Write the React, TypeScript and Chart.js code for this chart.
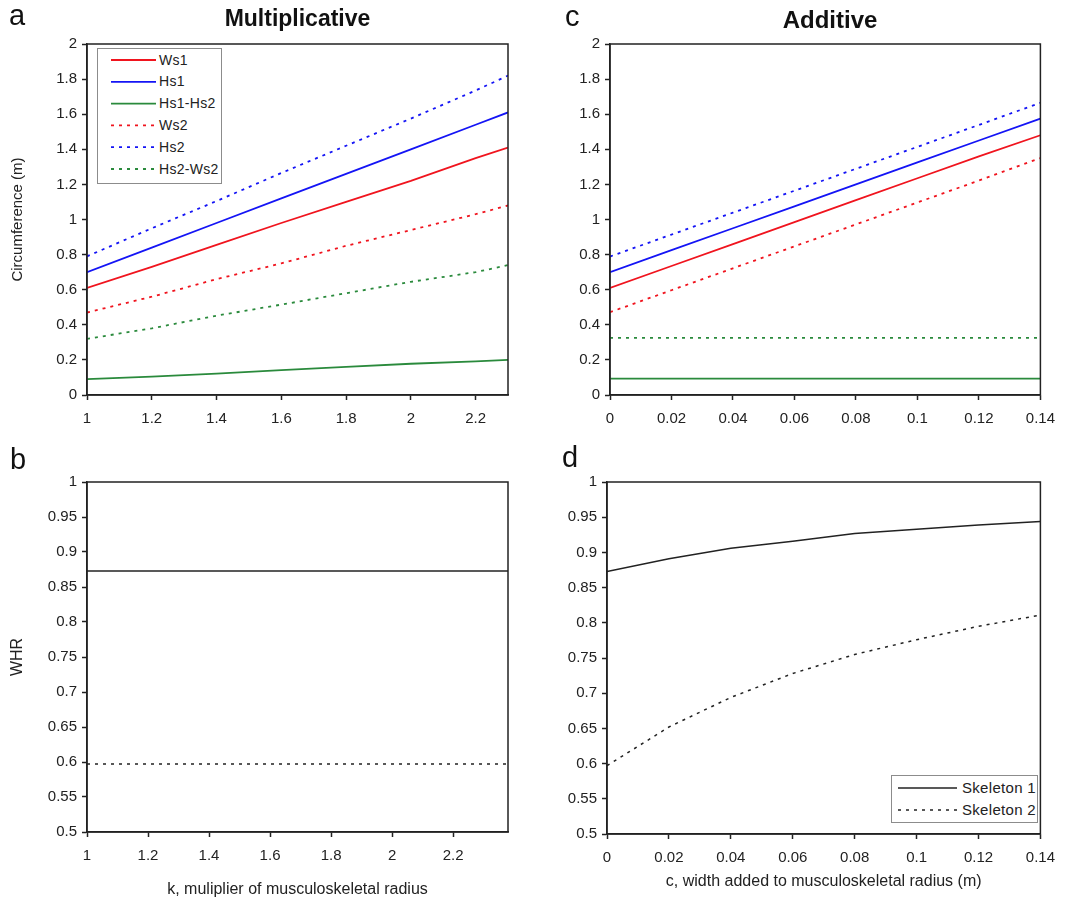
import React, { useEffect, useRef } from "react";
import { Chart, registerables } from "chart.js";

Chart.register(...registerables);

const FONT = '"Liberation Sans", Arial, Helvetica, sans-serif';
const INK = "#222";
const RED = "#f0141e";
const BLUE = "#1414f5";
const GREEN = "#2a8a3c";

// ---- Panel a: Multiplicative circumference ----
const kValues = [1, 1.2, 1.4, 1.6, 1.8, 2, 2.2, 2.3];
const multWs1 = [0.61, 0.73, 0.855, 0.98, 1.1, 1.22, 1.35, 1.41];
const multHs1 = [0.7, 0.84, 0.98, 1.12, 1.26, 1.4, 1.54, 1.61];
const multHs1Hs2 = [0.09, 0.105, 0.122, 0.142, 0.16, 0.178, 0.192, 0.2];
const multWs2 = [0.47, 0.56, 0.66, 0.75, 0.85, 0.94, 1.03, 1.08];
const multHs2 = [0.79, 0.95, 1.105, 1.265, 1.42, 1.575, 1.735, 1.82];
const multHs2Ws2 = [0.32, 0.38, 0.452, 0.515, 0.58, 0.645, 0.7, 0.74];

// ---- Panel c: Additive circumference ----
const cValues = [0, 0.02, 0.04, 0.06, 0.08, 0.1, 0.12, 0.14];
const addWs1 = [0.61, 0.735, 0.86, 0.985, 1.11, 1.235, 1.36, 1.48];
const addHs1 = [0.7, 0.825, 0.95, 1.075, 1.2, 1.325, 1.45, 1.575];
const addHs1Hs2 = [0.093, 0.093, 0.093, 0.093, 0.093, 0.093, 0.093, 0.093];
const addWs2 = [0.472, 0.597, 0.722, 0.847, 0.972, 1.097, 1.222, 1.35];
const addHs2 = [0.789, 0.914, 1.039, 1.164, 1.289, 1.414, 1.539, 1.665];
const addHs2Ws2 = [0.325, 0.325, 0.325, 0.325, 0.325, 0.325, 0.325, 0.325];

// ---- Panel b: Multiplicative WHR ----
const kValuesB = [1, 1.2, 1.4, 1.6, 1.8, 2, 2.2, 2.38];
const whrMultSk1 = [0.873, 0.873, 0.873, 0.873, 0.873, 0.873, 0.873, 0.873];
const whrMultSk2 = [0.597, 0.597, 0.597, 0.597, 0.597, 0.597, 0.597, 0.597];

// ---- Panel d: Additive WHR ----
const whrAddSk1 = [0.873, 0.891, 0.906, 0.916, 0.927, 0.933, 0.939, 0.944];
const whrAddSk2 = [0.597, 0.652, 0.694, 0.728, 0.755, 0.776, 0.795, 0.811];

const circLegend = ["Ws1", "Hs1", "Hs1-Hs2", "Ws2", "Hs2", "Hs2-Ws2"];
const whrLegend = ["Skeleton 1", "Skeleton 2"];

type Series = { label: string; xs: number[]; ys: number[]; color: string; dashed: boolean; width: number };

type PanelProps = {
  left: number;
  top: number;
  width: number;
  height: number;
  padTop: number;
  padRight: number;
  yAxisWidth: number;
  xAxisHeight: number;
  xMin: number;
  xMax: number;
  xStep: number;
  yMin: number;
  yMax: number;
  yStep: number;
  yTitle?: string;
  yTitleSize?: number;
  yTitlePad?: number;
  xTitle?: string;
  xTitleSize?: number;
  xTitlePad?: number;
  series: Series[];
};

const framePlugin = {
  id: "frame",
  afterDraw(chart: any) {
    const { ctx, chartArea } = chart;
    ctx.save();
    ctx.strokeStyle = INK;
    ctx.lineWidth = 1.5;
    ctx.strokeRect(chartArea.left, chartArea.top, chartArea.right - chartArea.left, chartArea.bottom - chartArea.top);
    ctx.restore();
  },
};

const fmt = (v: any) => String(parseFloat(Number(v).toFixed(6)));

function Panel(p: PanelProps) {
  const ref = useRef<HTMLCanvasElement | null>(null);
  useEffect(() => {
    if (!ref.current) return;
    const tickFont = { family: FONT, size: 15 };
    const chart = new Chart(ref.current, {
      type: "line",
      data: {
        datasets: p.series.map((s) => ({
          label: s.label,
          data: s.xs.map((x, i) => ({ x, y: s.ys[i] })),
          borderColor: s.color,
          backgroundColor: s.color,
          borderWidth: s.width,
          borderDash: s.dashed ? [3, 5] : [],
          pointRadius: 0,
          fill: false,
          tension: 0,
        })),
      },
      options: {
        animation: false,
        responsive: false,
        maintainAspectRatio: false,
        layout: { padding: { top: p.padTop, right: p.padRight, left: 0, bottom: 0 } },
        plugins: {
          legend: { display: false },
          tooltip: { enabled: false },
          title: { display: false },
        },
        scales: {
          x: {
            type: "linear",
            min: p.xMin,
            max: p.xMax,
            afterFit: (s: any) => {
              s.height = p.xAxisHeight;
            },
            ticks: {
              stepSize: p.xStep,
              includeBounds: false,
              autoSkip: false,
              maxRotation: 0,
              font: tickFont,
              color: INK,
              padding: 10,
              callback: fmt,
            },
            grid: { drawOnChartArea: false, drawTicks: true, tickLength: 5, color: INK, tickWidth: 1.5 },
            border: { display: true, color: INK, width: 1.5 },
            title: p.xTitle
              ? {
                  display: true,
                  text: p.xTitle,
                  color: INK,
                  font: { family: FONT, size: p.xTitleSize || 16 },
                  padding: { top: 0, bottom: p.xTitlePad || 0 },
                }
              : { display: false },
          },
          y: {
            type: "linear",
            min: p.yMin,
            max: p.yMax,
            afterFit: (s: any) => {
              s.width = p.yAxisWidth;
            },
            ticks: {
              stepSize: p.yStep,
              autoSkip: false,
              font: tickFont,
              color: INK,
              padding: 5,
              callback: fmt,
            },
            grid: { drawOnChartArea: false, drawTicks: true, tickLength: 5, color: INK, tickWidth: 1.5 },
            border: { display: true, color: INK, width: 1.5 },
            title: p.yTitle
              ? {
                  display: true,
                  text: p.yTitle,
                  color: INK,
                  font: { family: FONT, size: p.yTitleSize || 15 },
                  padding: { top: p.yTitlePad || 0, bottom: 0 },
                }
              : { display: false },
          },
        },
      },
      plugins: [framePlugin],
    } as any);
    return () => chart.destroy();
  }, []);
  return (
    <canvas
      ref={ref}
      width={p.width}
      height={p.height}
      style={{ position: "absolute", left: p.left, top: p.top, width: p.width, height: p.height }}
    />
  );
}

type LegendRow = { label: string; color: string; dashed: boolean; width: number };

function Legend(props: {
  left: number;
  top: number;
  width: number;
  height: number;
  rows: LegendRow[];
  firstY: number;
  step: number;
  sampleX0: number;
  sampleX1: number;
  textX: number;
  fontSize: number;
}) {
  const { left, top, width, height, rows, firstY, step, sampleX0, sampleX1, textX, fontSize } = props;
  return (
    <div
      style={{
        position: "absolute",
        left,
        top,
        width,
        height,
        boxSizing: "border-box",
        border: "1.5px solid #8c8c8c",
        background: "#fff",
      }}
    >
      <svg width={width} height={height} style={{ position: "absolute", left: 0, top: 0 }}>
        {rows.map((r, i) => (
          <line
            key={r.label}
            x1={sampleX0}
            x2={sampleX1}
            y1={firstY + i * step}
            y2={firstY + i * step}
            stroke={r.color}
            strokeWidth={r.width}
            strokeDasharray={r.dashed ? "3 5" : undefined}
          />
        ))}
      </svg>
      {rows.map((r, i) => (
        <div
          key={r.label + "t"}
          style={{
            position: "absolute",
            left: textX,
            top: firstY + i * step - fontSize * 0.6,
            fontFamily: FONT,
            fontSize,
            lineHeight: `${fontSize * 1.2}px`,
            color: INK,
            whiteSpace: "nowrap",
            letterSpacing: 0.3,
          }}
        >
          {r.label}
        </div>
      ))}
    </div>
  );
}

function Label(props: { text: string; left: number; top: number; size: number; bold?: boolean; width?: number }) {
  return (
    <div
      style={{
        position: "absolute",
        left: props.left,
        top: props.top,
        width: props.width,
        textAlign: props.width ? "center" : "left",
        fontFamily: FONT,
        fontSize: props.size,
        fontWeight: props.bold ? 700 : 400,
        lineHeight: 1,
        color: "#111",
        whiteSpace: "nowrap",
      }}
    >
      {props.text}
    </div>
  );
}

export default function App() {
  const circColors = [RED, BLUE, GREEN, RED, BLUE, GREEN];
  const circDashed = [false, false, false, true, true, true];
  const multSeries: number[][] = [multWs1, multHs1, multHs1Hs2, multWs2, multHs2, multHs2Ws2];
  const addSeries: number[][] = [addWs1, addHs1, addHs1Hs2, addWs2, addHs2, addHs2Ws2];

  const seriesA: Series[] = circLegend.map((label, i) => ({
    label,
    xs: kValues,
    ys: multSeries[i],
    color: circColors[i],
    dashed: circDashed[i],
    width: 1.8,
  }));
  const seriesC: Series[] = circLegend.map((label, i) => ({
    label,
    xs: cValues,
    ys: addSeries[i],
    color: circColors[i],
    dashed: circDashed[i],
    width: 1.8,
  }));
  const seriesB: Series[] = [
    { label: whrLegend[0], xs: kValuesB, ys: whrMultSk1, color: INK, dashed: false, width: 1.5 },
    { label: whrLegend[1], xs: kValuesB, ys: whrMultSk2, color: INK, dashed: true, width: 1.5 },
  ];
  const seriesD: Series[] = [
    { label: whrLegend[0], xs: cValues, ys: whrAddSk1, color: INK, dashed: false, width: 1.5 },
    { label: whrLegend[1], xs: cValues, ys: whrAddSk2, color: INK, dashed: true, width: 1.5 },
  ];

  return (
    <div>
      <Panel
        left={0}
        top={30}
        width={530}
        height={400}
        padTop={12}
        padRight={22}
        yAxisWidth={87}
        xAxisHeight={35}
        xMin={1}
        xMax={2.3}
        xStep={0.2}
        yMin={0}
        yMax={2}
        yStep={0.2}
        yTitle="Circumference (m)"
        yTitleSize={15}
        yTitlePad={9}
        series={seriesA}
      />
      <Panel
        left={540}
        top={30}
        width={525}
        height={400}
        padTop={13}
        padRight={22}
        yAxisWidth={70}
        xAxisHeight={35}
        xMin={0}
        xMax={0.14}
        xStep={0.02}
        yMin={0}
        yMax={2}
        yStep={0.2}
        series={seriesC}
      />
      <Panel
        left={0}
        top={440}
        width={530}
        height={460}
        padTop={42}
        padRight={22}
        yAxisWidth={87}
        xAxisHeight={68}
        xMin={1}
        xMax={2.38}
        xStep={0.2}
        yMin={0.5}
        yMax={1}
        yStep={0.05}
        yTitle="WHR"
        yTitleSize={16}
        yTitlePad={8.4}
        xTitle="k, muliplier of musculoskeletal radius"
        xTitleSize={16}
        xTitlePad={1}
        series={seriesB}
      />
      <Panel
        left={540}
        top={440}
        width={525}
        height={460}
        padTop={42}
        padRight={19}
        yAxisWidth={67}
        xAxisHeight={66}
        xMin={0}
        xMax={0.14}
        xStep={0.02}
        yMin={0.5}
        yMax={1}
        yStep={0.05}
        xTitle="c, width added to musculoskeletal radius (m)"
        xTitleSize={16}
        xTitlePad={9}
        series={seriesD}
      />

      <Label text="a" left={9} top={1} size={29} />
      <Label text="b" left={10} top={445} size={29} />
      <Label text="c" left={565} top={2} size={29} />
      <Label text="d" left={562} top={443} size={29} />

      <Label text="Multiplicative" left={87} width={421} top={7} size={23} bold />
      <Label text="Additive" left={614} width={432} top={8} size={24} bold />

      <Legend
        left={97}
        top={48}
        width={125}
        height={136}
        rows={circLegend.map((label, i) => ({ label, color: circColors[i], dashed: circDashed[i], width: 1.8 }))}
        firstY={11}
        step={21.8}
        sampleX0={13}
        sampleX1={58}
        textX={61}
        fontSize={14}
      />
      <Legend
        left={891}
        top={775}
        width={147}
        height={48}
        rows={whrLegend.map((label, i) => ({ label, color: INK, dashed: i === 1, width: 1.5 }))}
        firstY={12}
        step={22}
        sampleX0={6}
        sampleX1={65}
        textX={70}
        fontSize={15}
      />
    </div>
  );
}
